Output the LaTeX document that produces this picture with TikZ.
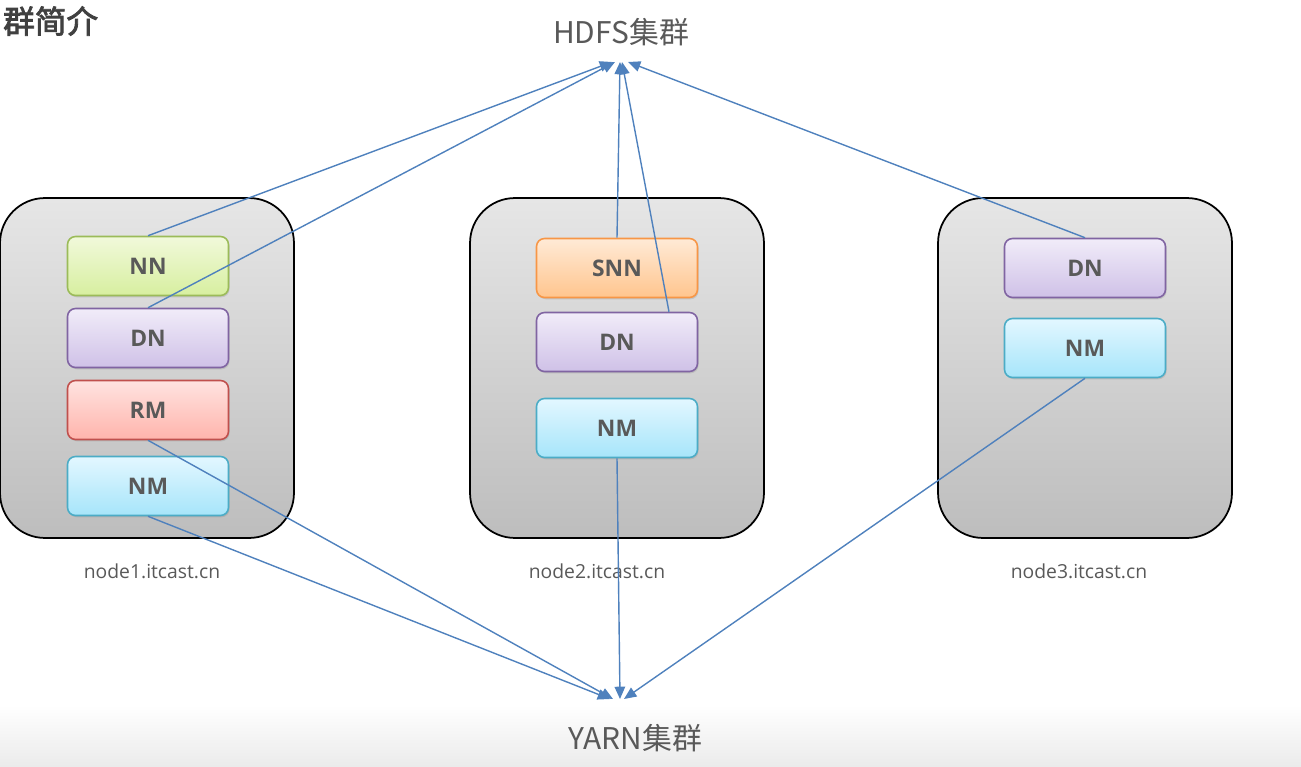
\documentclass[tikz,border=0pt]{standalone}
\usepackage{fontspec}
\setmainfont{Open Sans}
\newfontfamily\cjk[AutoFakeBold=2.5]{Noto Sans CJK SC}
\usetikzlibrary{arrows.meta,shadows}

\definecolor{txtgray}{HTML}{595959}
\definecolor{hosttop}{HTML}{E6E6E6}
\definecolor{hostbot}{HTML}{BDBDBD}
\definecolor{linkblue}{HTML}{4F81BD}
\definecolor{nntop}{HTML}{F1F9DA}
\definecolor{nnbot}{HTML}{D7EFA0}
\definecolor{nnline}{HTML}{9BBB59}
\definecolor{dntop}{HTML}{F1ECF9}
\definecolor{dnbot}{HTML}{CFC1E7}
\definecolor{dnline}{HTML}{8064A2}
\definecolor{rmtop}{HTML}{FFE3E0}
\definecolor{rmbot}{HTML}{FFB4AC}
\definecolor{rmline}{HTML}{C0504D}
\definecolor{nmtop}{HTML}{E3F7FF}
\definecolor{nmbot}{HTML}{A6E5FA}
\definecolor{nmline}{HTML}{4BACC6}
\definecolor{snntop}{HTML}{FFEAD6}
\definecolor{snnbot}{HTML}{FFC58E}
\definecolor{snnline}{HTML}{F79646}

\begin{document}
\begin{tikzpicture}[x=0.02cm,y=-0.02cm,
	host/.style={draw=black, line width=1pt, rounded corners=0.9cm, top color=hosttop, bottom color=hostbot, minimum width=5.88cm, minimum height=6.8cm},
	proc/.style={rounded corners=0.16cm, line width=0.9pt, minimum width=3.22cm, minimum height=1.18cm, font=\fontsize{13}{15}\selectfont\bfseries, text=txtgray, drop shadow={opacity=0.25, shadow xshift=0.6pt, shadow yshift=-1pt}},
	nnbox/.style={proc, draw=nnline, top color=nntop, bottom color=nnbot},
	dnbox/.style={proc, draw=dnline, top color=dntop, bottom color=dnbot},
	rmbox/.style={proc, draw=rmline, top color=rmtop, bottom color=rmbot},
	nmbox/.style={proc, draw=nmline, top color=nmtop, bottom color=nmbot},
	snnbox/.style={proc, draw=snnline, top color=snntop, bottom color=snnbot},
	hostname/.style={anchor=base, text=txtgray, font=\fontsize{11}{13}\selectfont},
	cluster/.style={anchor=base, text=txtgray, font=\cjk\fontsize{17}{20}\selectfont},
	link/.style={draw=linkblue, line width=0.8pt, -{Triangle[length=7pt,width=6pt]}}
]

	\useasboundingbox (0,0) rectangle (1301,767);
	\shade[top color=white, bottom color=black!8] (0,705) rectangle (1301,767);

	\node[anchor=west, text=black!75, font=\cjk\fontsize{18}{20}\selectfont\bfseries] (title) at (-3,21) {群简介};

	\node[cluster] (hdfs) at (621,44) {HDFS集群};
	\node[cluster] (yarn) at (635,749) {YARN集群};
	\coordinate (hdfsin) at (620,62);
	\coordinate (yarnin) at (618,699);

	\node[host] (host1) at (147,368) {};
	\node[host] (host2) at (617,368) {};
	\node[host] (host3) at (1085,368) {};

	\node[hostname] (name1) at (152,578) {node1.itcast.cn};
	\node[hostname] (name2) at (597,578) {node2.itcast.cn};
	\node[hostname] (name3) at (1079,578) {node3.itcast.cn};

	\node[nnbox] (nn1) at (148,266) {NN};
	\node[dnbox] (dn1) at (148,338) {DN};
	\node[rmbox] (rm1) at (148,410) {RM};
	\node[nmbox] (nm1) at (148,486) {NM};

	\node[snnbox] (snn2) at (617,268) {SNN};
	\node[dnbox] (dn2) at (617,342) {DN};
	\node[nmbox] (nm2) at (617,428) {NM};

	\node[dnbox] (dn3) at (1085,268) {DN};
	\node[nmbox] (nm3) at (1085,348) {NM};

	\draw[link] (nn1.north) -- ([xshift=-0.16cm]hdfsin);
	\draw[link] (dn1.north) -- ([xshift=-0.1cm]hdfsin);
	\draw[link] (snn2.north) -- (hdfsin);
	\draw[link] ([xshift=1.04cm]dn2.north) -- ([xshift=0.04cm]hdfsin);
	\draw[link] (dn3.north) -- ([xshift=0.16cm]hdfsin);

	\draw[link] (rm1.south) -- ([xshift=-0.1cm]yarnin);
	\draw[link] (nm1.south) -- ([xshift=-0.16cm]yarnin);
	\draw[link] (nm2.south) -- ([xshift=0.04cm]yarnin);
	\draw[link] (nm3.south) -- ([xshift=0.12cm]yarnin);

\end{tikzpicture}
\end{document}
